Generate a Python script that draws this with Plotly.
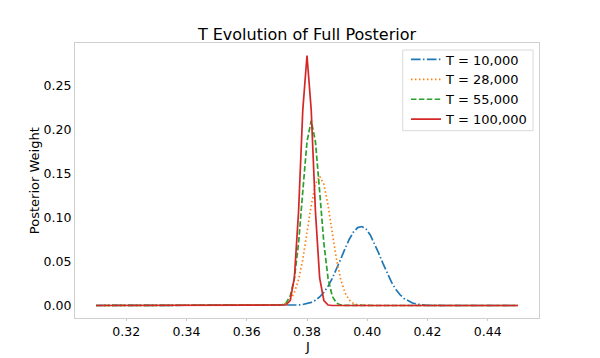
import plotly.graph_objects as go

# J grid (step 0.0014); the curves are zero outside 0.366..0.4248
j_vals = [0.31,
          0.366, 0.3674, 0.3688, 0.3702, 0.3716, 0.373, 0.3744, 0.3758, 0.3772, 0.3786,
          0.38, 0.3814, 0.3828, 0.3842, 0.3856, 0.387, 0.3884, 0.3898, 0.3912, 0.3926,
          0.394, 0.3954, 0.3968, 0.3982, 0.3996, 0.401, 0.4024, 0.4038, 0.4052, 0.4066,
          0.408, 0.4094, 0.4108, 0.4122, 0.4136, 0.415, 0.4164, 0.4178, 0.4192, 0.4206,
          0.422, 0.4234, 0.4248,
          0.45]

w_10k = [0.0,
         0, 0, 0, 0, 0, 0, 0.0001, 0.0003, 0.0006, 0.0011,
         0.0020, 0.0036, 0.0060, 0.0097, 0.0150, 0.0220, 0.0309, 0.0413, 0.0528, 0.0644,
         0.0750, 0.0834, 0.0885, 0.0897, 0.0868, 0.0801, 0.0707, 0.0595, 0.0478, 0.0367,
         0.0268, 0.0188, 0.0125, 0.0080, 0.0049, 0.0028, 0.0016, 0.0008, 0.0004, 0.0002,
         0.0001, 0, 0,
         0.0]

w_28k = [0.0,
         0, 0, 0.0001, 0.0002, 0.0008, 0.0024, 0.0063, 0.0145, 0.0294, 0.0524,
         0.0823, 0.1136, 0.1378, 0.147, 0.1378, 0.1136, 0.0823, 0.0524, 0.0294, 0.0145,
         0.0063, 0.0024, 0.0008, 0.0002, 0.0001, 0, 0, 0, 0, 0,
         0, 0, 0, 0, 0, 0, 0, 0, 0, 0,
         0, 0, 0,
         0.0]

w_55k = [0.0,
         0, 0, 0, 0.0001, 0.0006, 0.0027, 0.0103, 0.0305, 0.0709, 0.1296,
         0.1861, 0.210, 0.1861, 0.1296, 0.0709, 0.0305, 0.0103, 0.0027, 0.0006, 0.0001,
         0, 0, 0, 0, 0, 0, 0, 0, 0, 0,
         0, 0, 0, 0, 0, 0, 0, 0, 0, 0,
         0, 0, 0,
         0.0]

w_100k = [0.0,
          0, 0, 0, 0, 0, 0.0006, 0.0056, 0.0313, 0.1066, 0.222,
          0.284, 0.222, 0.1066, 0.0313, 0.0056, 0.0006, 0, 0, 0, 0,
          0, 0, 0, 0, 0, 0, 0, 0, 0, 0,
          0, 0, 0, 0, 0, 0, 0, 0, 0, 0,
          0, 0, 0,
          0.0]

names = ["T = 10,000", "T = 28,000", "T = 55,000", "T = 100,000"]
colors = ["#1f77b4", "#ff7f0e", "#2ca02c", "#d62728"]
dashes = ["9.6px,2.4px,1.5px,2.4px", "1.5px,2.5px", "5.5px,2.4px", "solid"]

fig = go.Figure()
for w, name, c, d in zip([w_10k, w_28k, w_55k, w_100k], names, colors, dashes):
    fig.add_trace(go.Scatter(x=j_vals, y=w, mode="lines", name=name,
                             line=dict(color=c, width=1.7, dash=d)))

axis_style = dict(showgrid=False, zeroline=False, showline=True, mirror=True,
                  linecolor="#d0d0d0", linewidth=1.2,
                  tickfont=dict(size=12.5, color="black"), automargin=False)

fig.update_xaxes(range=[0.303, 0.457], tickvals=[0.32, 0.34, 0.36, 0.38, 0.40, 0.42, 0.44],
                 tickformat=".2f", ticks="outside", ticklen=2, tickcolor="#c8c8c8",
                 **axis_style)
fig.update_yaxes(range=[-0.0142, 0.2982], tickvals=[0, 0.05, 0.10, 0.15, 0.20, 0.25],
                 tickformat=".2f", ticks="", **axis_style)

# axis titles placed as annotations
fig.add_annotation(text="J", xref="paper", yref="paper", x=0.5, y=-0.103,
                   xanchor="center", yanchor="middle", showarrow=False, font=dict(size=13))
fig.add_annotation(text="Posterior Weight", xref="paper", yref="paper", x=-0.087, y=0.5,
                   xanchor="center", yanchor="middle", textangle=-90, showarrow=False,
                   font=dict(size=13))

# legend frame drawn as a shape so its padding matches the reference
fig.add_shape(type="rect", xref="paper", yref="paper", x0=0.7063, x1=0.9871, y0=0.6811, y1=0.9745,
              line=dict(color="#d9d9d9", width=1), fillcolor="white", layer="above")

# the page body adds an 8px offset, so margins are shifted to compensate
fig.update_layout(
    width=600, height=358,
    margin=dict(l=67, r=69, t=35, b=48),
    paper_bgcolor="white", plot_bgcolor="white",
    font=dict(family="DejaVu Sans", color="black"),
    title=dict(text="T Evolution of Full Posterior", font=dict(size=16),
               x=0.5, xref="paper", y=1 - 26 / 358, yref="container", yanchor="middle",
               automargin=False),
    legend=dict(x=0.987, xanchor="right", y=0.9945, yanchor="top",
                borderwidth=0, bgcolor="rgba(0,0,0,0)",
                font=dict(size=13), tracegroupgap=0, itemwidth=30),
)

fig.write_html("out.html")
